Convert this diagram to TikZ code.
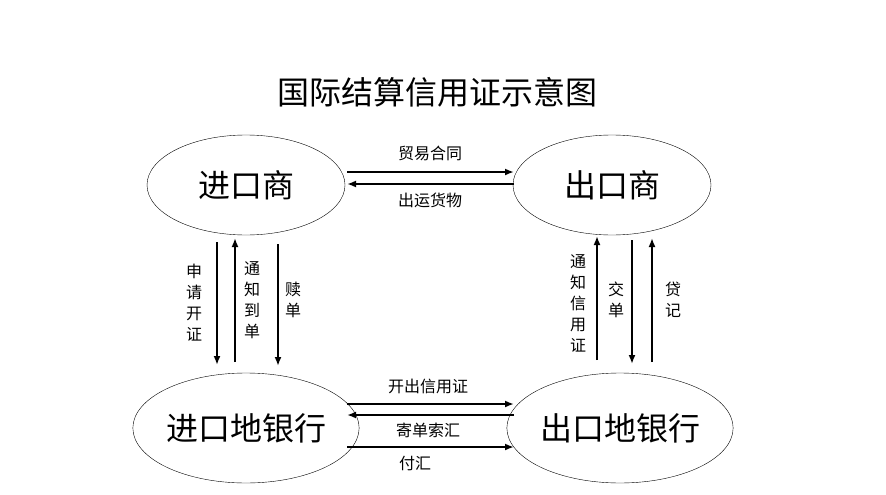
\documentclass[tikz,border=0pt]{standalone}
\usepackage{fontspec}
\usetikzlibrary{shapes.geometric,arrows.meta}
\setmainfont{Noto Sans CJK SC}
\begin{document}
\begin{tikzpicture}[x=1pt,y=-1pt,
  party/.style={draw,ellipse,thin,minimum width=198pt,minimum height=100pt,inner sep=0pt,font=\fontsize{32}{34}\selectfont},
  bank/.style={party,minimum height=110pt,minimum width=200pt},
  flow/.style={-{Latex[length=9pt,width=7pt]},line width=2pt},
  lab/.style={font=\fontsize{16}{18}\selectfont,inner sep=0pt},
  vlab/.style={lab,align=center,text width=18pt,font=\fontsize{16}{21}\selectfont}]
\useasboundingbox (0,0) rectangle (886,495);
\node[font=\fontsize{32}{34}\selectfont] (title) at (437,92) {国际结算信用证示意图};
\node[party] (imp) at (246,185) {进口商};
\node[party] (exp) at (612,185) {出口商};
\node[bank] (ib) at (246,428) {进口地银行};
\node[bank] (eb) at (620,428) {出口地银行};
% top
\coordinate (a1) at (347,172); \coordinate (a2) at (514,172);
\coordinate (b1) at (347,184); \coordinate (b2) at (514,184);
\draw[flow] (a1) -- (a2);
\draw[flow] (b2) -- (b1);
\node[lab] (l1) at (430,153) {贸易合同};
\node[lab] (l2) at (430,200) {出运货物};
% left verticals
\coordinate (c1) at (217,242); \coordinate (c2) at (217,365);
\coordinate (d1) at (235,362); \coordinate (d2) at (235,238);
\coordinate (e1) at (278,244); \coordinate (e2) at (278,366);
\draw[flow] (c1) -- (c2);
\draw[flow] (d1) -- (d2);
\draw[flow] (e1) -- (e2);
\node[vlab] (l3) at (194,303) {申\\请\\开\\证};
\node[vlab] (l4) at (252,300) {通\\知\\到\\单};
\node[vlab] (l5) at (293,300) {赎\\单};
% right verticals
\coordinate (f1) at (597,360); \coordinate (f2) at (597,236);
\coordinate (g1) at (632,240); \coordinate (g2) at (632,364);
\coordinate (h1) at (652,362); \coordinate (h2) at (652,238);
\draw[flow] (f1) -- (f2);
\draw[flow] (g1) -- (g2);
\draw[flow] (h1) -- (h2);
\node[vlab] (l6) at (578,303) {通\\知\\信\\用\\证};
\node[vlab] (l7) at (616,300) {交\\单};
\node[vlab] (l8) at (673,300) {贷\\记};
% bottom
\coordinate (i1) at (347,404); \coordinate (i2) at (514,404);
\coordinate (j1) at (347,415); \coordinate (j2) at (514,415);
\coordinate (k1) at (347,447); \coordinate (k2) at (514,447);
\draw[flow] (i1) -- (i2);
\draw[flow] (j2) -- (j1);
\draw[flow] (k1) -- (k2);
\node[lab] (l9) at (428,386) {开出信用证};
\node[lab] (l10) at (428,430) {寄单索汇};
\node[lab] (l11) at (415,463) {付汇};
\end{tikzpicture}
\end{document}
